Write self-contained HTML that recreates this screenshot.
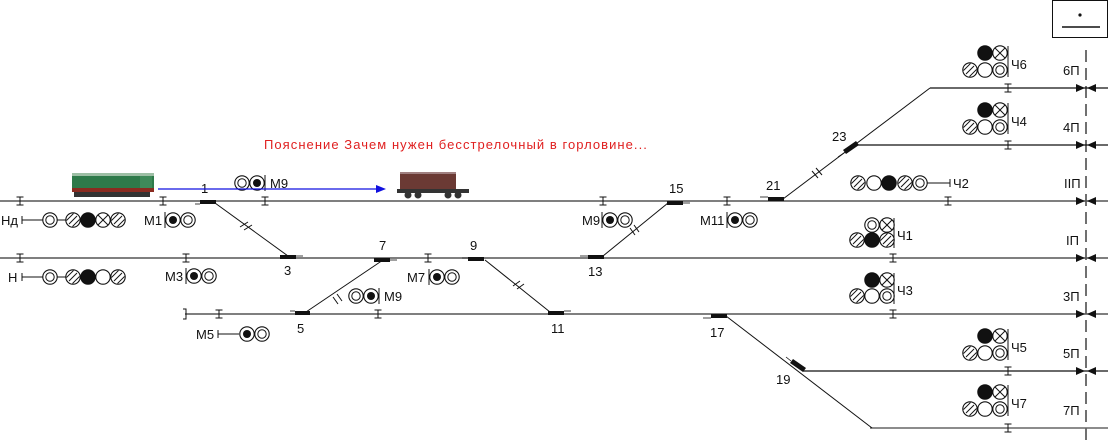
<!DOCTYPE html>
<html><head><meta charset="utf-8"><style>
html,body{margin:0;padding:0;background:#fff;}
svg{display:block;}
text{font-family:"Liberation Sans",sans-serif;font-size:13px;fill:#111;}
</style></head><body>
<svg width="1110" height="440" viewBox="0 0 1110 440" xmlns="http://www.w3.org/2000/svg">
<defs>
<g id="ce"><circle r="7.2" fill="#fff" stroke="#111" stroke-width="1.1"/></g>
<g id="cf"><circle r="7.2" fill="#111" stroke="#111" stroke-width="1.1"/></g>
<g id="ch"><circle r="7.2" fill="#fff" stroke="#111" stroke-width="1.1"/><line x1="-4" y1="4" x2="4" y2="-4" stroke="#111"/><line x1="-6.5" y1="0.5" x2="0.5" y2="-6.5" stroke="#111" stroke-width="0.9"/><line x1="-0.5" y1="6.5" x2="6.5" y2="-0.5" stroke="#111" stroke-width="0.9"/></g>
<g id="cx"><circle r="7.2" fill="#fff" stroke="#111" stroke-width="1.1"/><line x1="-5" y1="-5" x2="5" y2="5" stroke="#111"/><line x1="-5" y1="5" x2="5" y2="-5" stroke="#111"/></g>
<g id="cd"><circle r="7.2" fill="#fff" stroke="#111" stroke-width="1.1"/><circle r="4.2" fill="none" stroke="#111"/></g>
<g id="cp"><circle r="7.2" fill="#fff" stroke="#111" stroke-width="1.1"/><circle r="4" fill="#111"/></g>
<g id="ij"><line x1="0" y1="-4" x2="0" y2="4" stroke="#111"/><line x1="-3.5" y1="-4" x2="3.5" y2="-4" stroke="#111"/><line x1="-3.5" y1="4" x2="3.5" y2="4" stroke="#111"/></g>
</defs>

<!-- box -->
<rect x="1052.5" y="0.5" width="55" height="37" fill="none" stroke="#111"/>
<circle cx="1080" cy="15" r="1.6" fill="#111"/>
<line x1="1062" y1="27" x2="1100" y2="27" stroke="#111" stroke-width="1.4"/>
<line x1="1086" y1="50" x2="1086" y2="440" stroke="#111" stroke-width="1.2" stroke-dasharray="12,6"/>

<!-- tracks -->
<g stroke="#555" stroke-width="1.5">
<line x1="0" y1="201" x2="1108" y2="201"/>
<line x1="0" y1="258" x2="1108" y2="258"/>
<line x1="185" y1="314" x2="1108" y2="314"/>
</g>
<g stroke="#111" stroke-width="1.2">
<line x1="930" y1="88" x2="1108" y2="88"/>
<line x1="858" y1="145" x2="1108" y2="145"/>
<line x1="803" y1="371" x2="1108" y2="371"/>
</g>
<line x1="870" y1="428" x2="1108" y2="428" stroke="#666" stroke-width="1.5"/>
<path d="M183,309 h3 v10 h-3" fill="none" stroke="#111"/>

<!-- diagonals -->
<g stroke="#111" stroke-width="1">
<line x1="215" y1="203" x2="288" y2="256"/>
<line x1="383" y1="260" x2="306" y2="312"/>
<line x1="485" y1="260" x2="550" y2="312"/>
<line x1="603" y1="256" x2="668" y2="203"/>
<line x1="783" y1="199" x2="930" y2="88"/>
<line x1="726" y1="316" x2="872" y2="428"/>
</g>
<g stroke="#111" stroke-width="1">
<line x1="240" y1="227" x2="248" y2="222"/><line x1="244" y1="230" x2="252" y2="225"/>
<line x1="333" y1="297" x2="338" y2="304"/><line x1="337" y1="294" x2="342" y2="301"/>
<line x1="513" y1="286" x2="520" y2="281"/><line x1="517" y1="289" x2="524" y2="284"/>
<line x1="630" y1="228" x2="635" y2="235"/><line x1="634" y1="225" x2="639" y2="232"/>
<line x1="812" y1="171" x2="818" y2="178"/><line x1="816" y1="168" x2="822" y2="175"/>
</g>
<!-- switch marks -->
<g fill="#111">
<rect x="200" y="200" width="16" height="4"/>
<rect x="280" y="255" width="16" height="4"/>
<rect x="374" y="258" width="16" height="4"/>
<rect x="295" y="311" width="15" height="4"/>
<rect x="468" y="257" width="16" height="4"/>
<rect x="548" y="311" width="16" height="4"/>
<rect x="588" y="255" width="16" height="4"/>
<rect x="667" y="201" width="16" height="4"/>
<rect x="768" y="197" width="16" height="4"/>
<rect x="711" y="314" width="16" height="4"/>
<polygon points="843,150 856,141 859,145 846,154"/>
<polygon points="790,363 793,359 806,368 803,372"/>
</g>
<g stroke="#111" stroke-width="0.8">
<line x1="195" y1="204" x2="200" y2="204"/><line x1="296" y1="256" x2="303" y2="256"/>
<line x1="390" y1="260" x2="397" y2="260"/><line x1="290" y1="311" x2="295" y2="311"/>
<line x1="462" y1="258" x2="468" y2="258"/><line x1="564" y1="311" x2="571" y2="311"/>
<line x1="580" y1="256" x2="588" y2="256"/><line x1="683" y1="203" x2="690" y2="203"/>
<line x1="760" y1="197" x2="768" y2="197"/><line x1="703" y1="318" x2="711" y2="318"/>
<line x1="838" y1="157" x2="844" y2="153"/><line x1="786" y1="357" x2="791" y2="361"/>
</g>

<!-- insulated joints -->
<use href="#ij" x="20" y="201"/><use href="#ij" x="163" y="201"/><use href="#ij" x="265" y="201"/>
<use href="#ij" x="603" y="201"/><use href="#ij" x="727" y="201"/><use href="#ij" x="948" y="201"/>
<use href="#ij" x="20" y="258"/><use href="#ij" x="186" y="258"/><use href="#ij" x="428" y="258"/>
<use href="#ij" x="219" y="314"/><use href="#ij" x="378" y="314"/><use href="#ij" x="893" y="314"/>
<use href="#ij" x="1008" y="88"/><use href="#ij" x="1008" y="145"/><use href="#ij" x="893" y="258"/>
<use href="#ij" x="1008" y="371"/><use href="#ij" x="1008" y="428"/>

<!-- end arrows -->
<g fill="#111">
<polygon points="1085,88 1076,84 1076,92"/><polygon points="1087,88 1096,84 1096,92"/>
<polygon points="1085,145 1076,141 1076,149"/><polygon points="1087,145 1096,141 1096,149"/>
<polygon points="1085,201 1076,197 1076,205"/><polygon points="1087,201 1096,197 1096,205"/>
<polygon points="1085,258 1076,254 1076,262"/><polygon points="1087,258 1096,254 1096,262"/>
<polygon points="1085,314 1076,310 1076,318"/><polygon points="1087,314 1096,310 1096,318"/>
<polygon points="1085,371 1076,367 1076,375"/><polygon points="1087,371 1096,367 1096,375"/>
</g>

<!-- track labels -->
<text x="1063" y="75">6П</text><text x="1063" y="132">4П</text><text x="1064" y="188">IIП</text>
<text x="1066" y="245">IП</text><text x="1063" y="301">3П</text><text x="1063" y="358">5П</text><text x="1063" y="415">7П</text>

<!-- switch numbers -->
<text x="201" y="193">1</text><text x="284" y="275">3</text><text x="379" y="250">7</text>
<text x="297" y="333">5</text><text x="470" y="250">9</text><text x="551" y="333">11</text>
<text x="588" y="276">13</text><text x="669" y="193">15</text><text x="766" y="190">21</text>
<text x="832" y="141">23</text><text x="710" y="337">17</text><text x="776" y="384">19</text>

<!-- Нд / Н -->
<text x="1" y="225">Нд</text>
<line x1="22" y1="216" x2="22" y2="224" stroke="#111"/><line x1="22" y1="220" x2="43" y2="220" stroke="#111"/>
<use href="#cd" x="50" y="220"/><line x1="57" y1="220" x2="66" y2="220" stroke="#111"/>
<use href="#ch" x="73" y="220"/><use href="#cf" x="88" y="220"/><use href="#cx" x="103" y="220"/><use href="#ch" x="118" y="220"/>
<text x="8" y="282">Н</text>
<line x1="22" y1="273" x2="22" y2="281" stroke="#111"/><line x1="22" y1="277" x2="43" y2="277" stroke="#111"/>
<use href="#cd" x="50" y="277"/><line x1="57" y1="277" x2="66" y2="277" stroke="#111"/>
<use href="#ch" x="73" y="277"/><use href="#cf" x="88" y="277"/><use href="#ce" x="103" y="277"/><use href="#ch" x="118" y="277"/>

<!-- shunt signals -->
<text x="144" y="225">М1</text><line x1="165" y1="212" x2="165" y2="228" stroke="#111"/>
<use href="#cp" x="173" y="220"/><use href="#cd" x="188" y="220"/>
<use href="#cd" x="242" y="183"/><use href="#cp" x="257" y="183"/><line x1="265" y1="175" x2="265" y2="191" stroke="#111"/><text x="270" y="188">М9</text>
<text x="165" y="281">М3</text><line x1="186" y1="268" x2="186" y2="284" stroke="#111"/>
<use href="#cp" x="194" y="276"/><use href="#cd" x="209" y="276"/>
<use href="#cd" x="356" y="296"/><use href="#cp" x="371" y="296"/><line x1="379" y1="288" x2="379" y2="304" stroke="#111"/><text x="384" y="301">М9</text>
<text x="196" y="339">М5</text><line x1="218" y1="330" x2="218" y2="338" stroke="#111"/><line x1="218" y1="334" x2="239" y2="334" stroke="#111"/>
<use href="#cp" x="247" y="334"/><use href="#cd" x="262" y="334"/>
<text x="407" y="282">М7</text><line x1="429" y1="269" x2="429" y2="285" stroke="#111"/>
<use href="#cp" x="437" y="277"/><use href="#cd" x="452" y="277"/>
<text x="582" y="225">М9</text><line x1="602" y1="212" x2="602" y2="228" stroke="#111"/>
<use href="#cp" x="610" y="220"/><use href="#cd" x="625" y="220"/>
<text x="700" y="225">М11</text><line x1="727" y1="212" x2="727" y2="228" stroke="#111"/>
<use href="#cp" x="735" y="220"/><use href="#cd" x="750" y="220"/>

<!-- Ч2 -->
<use href="#ch" x="858" y="183"/><use href="#ce" x="874" y="183"/><use href="#cf" x="889" y="183"/><use href="#ch" x="905" y="183"/><use href="#cd" x="920" y="183"/>
<line x1="927" y1="183" x2="950" y2="183" stroke="#111"/><line x1="950" y1="179" x2="950" y2="187" stroke="#111"/>
<text x="953" y="188">Ч2</text>

<g><use href="#cf" x="985" y="53"/><use href="#cx" x="1000" y="53"/><use href="#ch" x="970" y="70"/><use href="#ce" x="985" y="70"/><use href="#cd" x="1000" y="70"/><line x1="1008" y1="46" x2="1008" y2="77" stroke="#111"/><text x="1011" y="69">Ч6</text></g>
<g transform="translate(0,57)"><use href="#cf" x="985" y="53"/><use href="#cx" x="1000" y="53"/><use href="#ch" x="970" y="70"/><use href="#ce" x="985" y="70"/><use href="#cd" x="1000" y="70"/><line x1="1008" y1="46" x2="1008" y2="77" stroke="#111"/><text x="1011" y="69">Ч4</text></g>
<g transform="translate(0,283)"><use href="#cf" x="985" y="53"/><use href="#cx" x="1000" y="53"/><use href="#ch" x="970" y="70"/><use href="#ce" x="985" y="70"/><use href="#cd" x="1000" y="70"/><line x1="1008" y1="46" x2="1008" y2="77" stroke="#111"/><text x="1011" y="69">Ч5</text></g>
<g transform="translate(0,339)"><use href="#cf" x="985" y="53"/><use href="#cx" x="1000" y="53"/><use href="#ch" x="970" y="70"/><use href="#ce" x="985" y="70"/><use href="#cd" x="1000" y="70"/><line x1="1008" y1="46" x2="1008" y2="77" stroke="#111"/><text x="1011" y="69">Ч7</text></g>

<use href="#cd" x="872" y="225"/><use href="#cx" x="887" y="225"/>
<use href="#ch" x="857" y="240"/><use href="#cf" x="872" y="240"/><use href="#ch" x="887" y="240"/>
<line x1="894" y1="218" x2="894" y2="248" stroke="#111"/><text x="897" y="240">Ч1</text>
<use href="#cf" x="872" y="280"/><use href="#cx" x="887" y="280"/>
<use href="#ch" x="857" y="296"/><use href="#ce" x="872" y="296"/><use href="#cd" x="887" y="296"/>
<line x1="894" y1="273" x2="894" y2="304" stroke="#111"/><text x="897" y="295">Ч3</text>

<!-- note -->
<text x="264" y="149" style="fill:#e02020;font-size:13px;letter-spacing:1.05px">Пояснение Зачем нужен бесстрелочный в горловине...</text>
<line x1="158" y1="189" x2="378" y2="189" stroke="#1010e0" stroke-width="1.3"/>
<polygon points="386,189 376,185 376,193" fill="#1010e0"/>

<!-- locomotive -->
<rect x="72" y="173" width="82" height="16" fill="#2e7a4a"/>
<rect x="72" y="173" width="82" height="3" fill="#9dbfa5"/>
<rect x="72" y="188" width="82" height="4" fill="#8a2b20"/>
<rect x="74" y="192" width="76" height="5" fill="#333"/>
<rect x="140" y="176" width="12" height="12" fill="#3f8a5a"/>
<!-- wagon -->
<rect x="400" y="172" width="56" height="18" fill="#6b3a34"/>
<rect x="400" y="172" width="56" height="2" fill="#a08080"/>
<rect x="397" y="189" width="72" height="4" fill="#333"/>
<circle cx="408" cy="195" r="3.5" fill="#333"/><circle cx="418" cy="195" r="3.5" fill="#333"/>
<circle cx="448" cy="195" r="3.5" fill="#333"/><circle cx="458" cy="195" r="3.5" fill="#333"/>
</svg>
</body></html>
